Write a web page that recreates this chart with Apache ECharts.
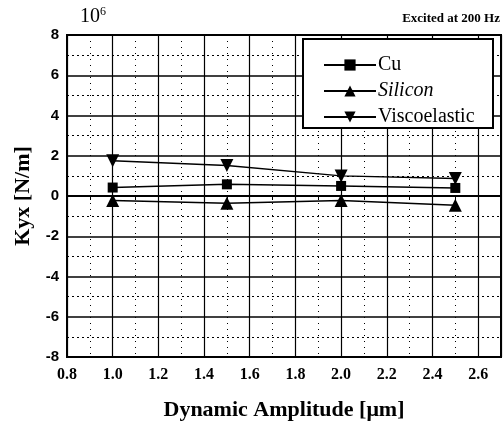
<!DOCTYPE html>
<html>
<head>
<meta charset="utf-8">
<script src="https://cdn.jsdelivr.net/npm/echarts@6/dist/echarts.min.js"></script>
<style>
  html, body { margin: 0; padding: 0; background: #fff; }
  #chart { width: 504px; height: 433px; }
</style>
</head>
<body>
<div id="chart"></div>
<script>
// amplitude in um, Kyx in 10^6 N/m
const amplitude = [1.0, 1.5, 2.0, 2.5]
const cuValues = [0.42, 0.58, 0.5, 0.4]
const siliconValues = [-0.22, -0.36, -0.22, -0.46]
const viscoValues = [1.75, 1.52, 1.0, 0.87]

const serif = '"Liberation Serif", "Times New Roman", serif'
const sans = '"Liberation Sans", Arial, sans-serif'

function pairs(ys) {
  return amplitude.map((x, i) => [x, ys[i]])
}

const lineStyle = { color: '#000', width: 1.5 }

const chart = echarts.init(document.getElementById('chart'))
chart.setOption({
  animation: false,
  grid: {
    left: 67,
    right: 3,
    top: 35,
    bottom: 76,
    show: true,
    borderColor: '#000',
    borderWidth: 2
  },
  xAxis: {
    type: 'value',
    min: 0.8,
    max: 2.7,
    interval: 0.2,
    name: 'Dynamic Amplitude [μm]',
    nameLocation: 'middle',
    nameGap: 42,
    nameTextStyle: { fontFamily: serif, fontWeight: 'bold', fontSize: 22, color: '#000' },
    axisLine: { show: true, lineStyle: { color: '#000', width: 2 } },
    axisTick: { show: false },
    minorTick: { show: true, splitNumber: 2, length: 4, lineStyle: { color: '#000' } },
    axisLabel: {
      color: '#000',
      fontFamily: serif,
      fontWeight: 'bold',
      fontSize: 16,
      margin: 10,
      formatter: v => (v > 2.65 ? '' : v.toFixed(1))
    },
    splitLine: { show: true, lineStyle: { color: '#000', width: 1.2 } },
    minorSplitLine: { show: true, lineStyle: { color: '#000', width: 1, type: [1, 5] } }
  },
  yAxis: {
    type: 'value',
    min: -8,
    max: 8,
    interval: 2,
    name: 'Kyx [N/m]',
    nameLocation: 'middle',
    nameGap: 28,
    nameTextStyle: { fontFamily: serif, fontWeight: 'bold', fontSize: 22, color: '#000' },
    axisLine: { show: true, lineStyle: { color: '#000', width: 2 } },
    axisTick: { show: false },
    axisLabel: {
      color: '#000',
      fontFamily: sans,
      fontWeight: 'bold',
      fontSize: 15,
      margin: 8
    },
    splitLine: { show: true, lineStyle: { color: '#000', width: 1.5 } },
    minorTick: { show: false, splitNumber: 2 },
    minorSplitLine: { show: true, lineStyle: { color: '#000', width: 1.2, type: [2, 3] } }
  },
  legend: {
    left: 318,
    top: 50,
    z: 20,
    orient: 'vertical',
    itemWidth: 52,
    itemHeight: 14,
    itemGap: 6,
    symbolRotate: 'inherit',
    textStyle: { fontFamily: serif, fontSize: 20, color: '#000', padding: [0, 0, 0, -3] },
    data: [
      { name: 'Cu' },
      { name: 'Silicon', textStyle: { fontStyle: 'italic' } },
      { name: 'Viscoelastic' }
    ]
  },
  graphic: [
    {
      type: 'rect',
      shape: { x: 303, y: 39, width: 190, height: 89 },
      style: { fill: '#fff', stroke: '#000', lineWidth: 2 },
      z: 10
    },
    {
      type: 'text',
      left: 80,
      top: 6,
      style: {
        text: '10{s|6}',
        fontFamily: serif,
        fontSize: 20,
        fill: '#000',
        rich: { s: { fontFamily: serif, fontSize: 12, verticalAlign: 'top', padding: [0, 0, 10, 0] } }
      }
    },
    {
      type: 'text',
      right: 4,
      top: 12,
      style: {
        text: 'Excited at 200 Hz',
        fontFamily: serif,
        fontWeight: 'bold',
        fontSize: 13,
        fill: '#000'
      }
    }
  ],
  series: [
    {
      name: 'Cu',
      type: 'line',
      data: pairs(cuValues),
      symbol: 'rect',
      symbolSize: 10,
      itemStyle: { color: '#000' },
      lineStyle: lineStyle,
      z: 3
    },
    {
      name: 'Silicon',
      type: 'line',
      data: pairs(siliconValues),
      symbol: 'triangle',
      symbolSize: 13,
      itemStyle: { color: '#000' },
      lineStyle: lineStyle,
      z: 3
    },
    {
      name: 'Viscoelastic',
      type: 'line',
      data: pairs(viscoValues),
      symbol: 'triangle',
      symbolRotate: 180,
      symbolSize: 13,
      itemStyle: { color: '#000' },
      lineStyle: lineStyle,
      z: 3
    }
  ]
})
</script>
</body>
</html>
